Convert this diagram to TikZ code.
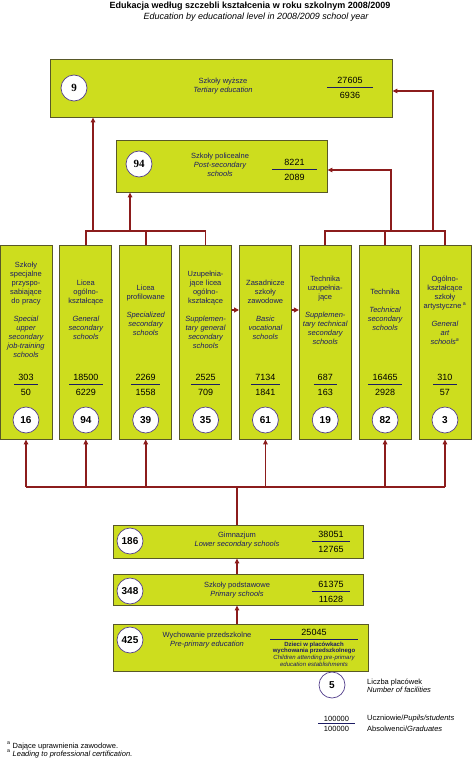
\documentclass[tikz,border=0pt]{standalone}
\usepackage{fontspec}
\setmainfont{Liberation Sans}
\newfontfamily\serifnum{Liberation Serif}
\usetikzlibrary{positioning,calc,arrows.meta}

\definecolor{boxfill}{RGB}{205,221,30}
\definecolor{boxline}{RGB}{88,88,40}
\definecolor{txtblue}{RGB}{28,28,100}
\definecolor{linkred}{RGB}{140,28,28}
\definecolor{ringblue}{RGB}{84,64,140}

\tikzset{
  level/.style={draw=boxline, fill=boxfill, line width=0.8pt, inner sep=0pt},
  count/.style={circle, draw=ringblue, fill=white, line width=0.7pt, minimum size=26pt, inner sep=0pt, font=\bfseries\fontsize{10}{11}\selectfont},
  label/.style={text=txtblue, align=center, inner sep=0pt, font=\fontsize{7.5}{9}\selectfont},
  num/.style={inner sep=0pt, text height=6.5pt, text depth=0pt, font=\fontsize{9}{10}\selectfont},
  bar/.style={txtblue, line width=0.6pt},
  link/.style={linkred, line width=1.6pt},
  arr/.style={link, -{Triangle[length=5pt,width=4.5pt]}},
}

% number of pupils over number of graduates
\newcommand{\ratio}[5]{%
  \coordinate (#1) at (#2);
  \node[num, above=3pt of #1] (#1u) {#4};
  \node[num, below=5pt of #1] (#1l) {#5};
  \draw[bar] ($(#1u.west |- #1)+(-#3,0)$) -- ($(#1u.east |- #1)+(#3,0)$);
}

\begin{document}
\begin{tikzpicture}[x=1pt, y=-1pt]
  \useasboundingbox (0,0) rectangle (472,759);

  \node[anchor=base, font=\bfseries\fontsize{9}{11}\selectfont] (title) at (250,9)
    {Edukacja według szczebli kształcenia w roku szkolnym 2008/2009};
  \node[anchor=base, font=\itshape\fontsize{9}{11}\selectfont] (subtitle) at (256,20)
    {Education by educational level in 2008/2009 school year};

  % upper levels
  \node[level, minimum width=342pt, minimum height=58pt] (tertiary) at (221,88) {};
  \node[count, font=\serifnum\bfseries\fontsize{11}{12}\selectfont] (ct) at (74,88) {9};
  \node[label] (lt) at (223,86) {Szkoły wyższe\\{\itshape Tertiary education}};
  \ratio{rt}{350,87}{10.5}{27605}{6936}

  \node[level, minimum width=211pt, minimum height=52pt] (postsec) at (221.5,166) {};
  \node[count, font=\serifnum\bfseries\fontsize{11}{12}\selectfont] (cp) at (139,164) {94};
  \node[label] (lp) at (220,165) {Szkoły policealne\\{\itshape Post-secondary}\\{\itshape schools}};
  \ratio{rp}{294.5,169}{12}{8221}{2089}

  % upper secondary columns
  \foreach \i/\pl/\en/\up/\lo/\cnt in {
    1/{Szkoły\\specjalne\\przyspo-\\sabiające\\do pracy}/{Special\\upper\\secondary\\job-training\\schools}/303/50/16,
    2/{Licea\\ogólno-\\kształcące}/{General\\secondary\\schools}/18500/6229/94,
    3/{Licea\\profilowane}/{Specialized\\secondary\\schools}/2269/1558/39,
    4/{Uzupełnia-\\jące licea\\ogólno-\\kształcące}/{Supplemen-\\tary general\\secondary\\schools}/2525/709/35,
    5/{Zasadnicze\\szkoły\\zawodowe}/{Basic\\vocational\\schools}/7134/1841/61,
    6/{Technika\\uzupełnia-\\jące}/{Supplemen-\\tary technical\\secondary\\schools}/687/163/19,
    7/{Technika}/{Technical\\secondary\\schools}/16465/2928/82,
    8/{Ogólno-\\kształcące\\szkoły\\artystyczne\,\textsuperscript{a}}/{General\\art\\schools\textsuperscript{a}}/310/57/3} {
    \pgfmathsetmacro\cx{26+59.85*(\i-1)}
    \node[level, minimum width=52pt, minimum height=194pt] (c\i) at (\cx,342) {};
    \node[label, text width=60pt] (t\i) at (\cx,310) {\pl\\[9pt]{\itshape\en}};
    \ratio{r\i}{\cx,384}{4}{\up}{\lo}
    \node[count] (n\i) at (\cx,420) {\cnt};
  }

  % links to upper levels
  \coordinate (jl) at (0,231);
  \draw[link] (c2.north) -- (c2.north |- jl) -- (c4.north |- jl) -- (c4.north);
  \draw[link] (c3.north) -- (c3.north |- jl);
  \coordinate (ul1) at (93,231);
  \coordinate (ul2) at (130,231);
  \draw[arr] (ul1) -- (ul1 |- tertiary.south);
  \draw[arr] (ul2) -- (ul2 |- postsec.south);
  \draw[link] (c6.north) -- (c6.north |- jl) -- (c8.north |- jl) -- (c8.north);
  \draw[link] (c7.north) -- (c7.north |- jl);
  \coordinate (ur1) at (391,231);
  \coordinate (ur2) at (433,231);
  \draw[arr] (ur1) |- ([yshift=-4pt]postsec.east);
  \draw[arr] (ur2) |- ([yshift=-3pt]tertiary.east);

  \coordinate (mid) at (0,310);
  \draw[arr, line width=1.4pt, -{Triangle[length=5pt,width=5pt]}] (c4.east |- mid) -- (c5.west |- mid);
  \draw[arr, line width=1.4pt, -{Triangle[length=5pt,width=5pt]}] (c5.east |- mid) -- (c6.west |- mid);

  % lower levels
  \node[level, minimum width=250pt, minimum height=33pt] (gim) at (238,541.5) {};
  \node[count] (cg) at (130,541) {186};
  \node[label] (lg) at (237,540) {Gimnazjum\\{\itshape Lower secondary schools}};
  \ratio{rg}{331,541}{6.5}{38051}{12765}

  \node[level, minimum width=250pt, minimum height=31pt] (prim) at (238,589.5) {};
  \node[count] (cs) at (130,591) {348};
  \node[label] (ls) at (237,590) {Szkoły podstawowe\\{\itshape Primary schools}};
  \ratio{rs}{331,591}{6.5}{61375}{11628}

  \node[level, minimum width=255pt, minimum height=47pt] (pre) at (240.5,647.5) {};
  \node[count] (cw) at (130,640) {425};
  \node[label] (lw) at (207,640) {Wychowanie przedszkolne\\{\itshape Pre-primary education}};
  \coordinate (rw) at (314,639);
  \node[num, above=3pt of rw] (rwu) {25045};
  \draw[bar] ($(rw)+(-44,0)$) -- ($(rw)+(44,0)$);
  \node[label, below=2.5pt of rw, font=\fontsize{6}{6.8}\selectfont] (rwl)
    {\textbf{Dzieci w placówkach}\\\textbf{wychowania przedszkolnego}\\{\itshape Children attending pre-primary}\\{\itshape education establishments}};

  \coordinate (bus) at (237,487);
  \draw[link] (gim.north -| bus) -- (bus);
  \draw[link] (c1.south |- bus) -- (c8.south |- bus);
  \foreach \k in {1,2,3,5,7,8}
    \draw[arr] (c\k.south |- bus) -- (c\k.south);
  \draw[arr] (prim.north -| bus) -- (gim.south -| bus);
  \draw[arr] (pre.north -| bus) -- (prim.south -| bus);

  % legend
  \node[count] (key) at (332,685) {5};
  \node[anchor=west, align=left, inner sep=0pt, font=\fontsize{7.5}{8.5}\selectfont] (keyt) at (367,686)
    {Liczba placówek\\{\itshape Number of facilities}};
  \coordinate (kr) at (336.5,723);
  \coordinate (kx) at (367,0);
  \node[num, above=1.5pt of kr, font=\fontsize{7.5}{8}\selectfont, text height=5.5pt] (kru) {100000};
  \node[num, below=3pt of kr, font=\fontsize{7.5}{8}\selectfont, text height=5.5pt] (krl) {100000};
  \draw[bar] ($(kr)+(-18.5,0)$) -- ($(kr)+(18.5,0)$);
  \node[anchor=west, inner sep=0pt, font=\fontsize{7.5}{8}\selectfont] (kpu) at (kx |- kru) {Uczniowie/\textit{Pupils/students}};
  \node[anchor=west, inner sep=0pt, font=\fontsize{7.5}{8}\selectfont] (kgr) at (kx |- krl) {Absolwenci/\textit{Graduates}};

  % footnotes
  \node[anchor=base west, inner sep=0pt, font=\fontsize{7.5}{8}\selectfont] (fn1) at (7,748)
    {\textsuperscript{a} Dające uprawnienia zawodowe.};
  \node[anchor=base west, inner sep=0pt, font=\fontsize{7.5}{8}\selectfont] (fn2) at (7,756)
    {\textsuperscript{a} \textit{Leading to professional certification.}};
\end{tikzpicture}
\end{document}
